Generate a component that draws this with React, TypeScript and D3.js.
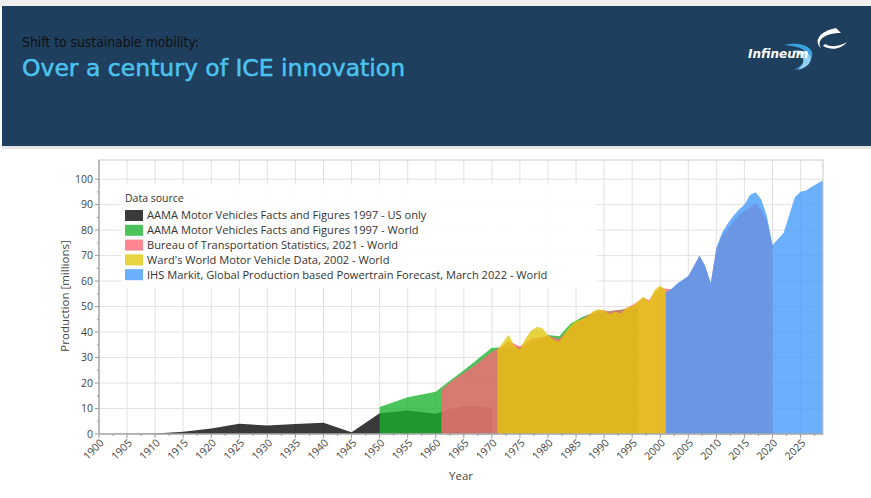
import React, { useRef, useEffect } from 'react';
import * as d3 from 'd3';

// US only production (AAMA 1997)
const usYears = [1900, 1905, 1910, 1915, 1920, 1925, 1930, 1935, 1940, 1945, 1950, 1955, 1960, 1962, 1965, 1968, 1970];
const usValues = [0, 0.05, 0.2, 0.9, 2.2, 4.0, 3.3, 3.9, 4.4, 0.7, 8.1, 9.2, 7.9, 9.5, 11.0, 10.8, 10.5];

// World production (AAMA 1997)
const aamaYears = [1950, 1955, 1960, 1962, 1965, 1970, 1975, 1978, 1980, 1982, 1984, 1986, 1988, 1990, 1994, 1996];
const aamaValues = [10.6, 14.4, 16.6, 20.0, 25.0, 33.8, 34.0, 36.5, 38.8, 38.4, 43.3, 45.8, 47.5, 48.0, 49.0, 50.3];

// Bureau of Transportation Statistics 2021
const btsYears = [1961, 1963, 1965, 1967, 1970, 1972, 1973, 1975, 1977, 1980, 1982, 1983, 1985, 1987, 1989, 1990, 1991, 1992, 1993, 1995, 1997, 1998, 1999, 2000, 2002, 2004, 2005, 2006, 2007, 2008, 2009, 2010, 2011, 2012, 2013, 2014, 2015, 2016, 2017, 2018, 2019, 2020];
const btsValues = [17.3, 21.0, 24.0, 27.0, 32.3, 34.5, 36.5, 34.3, 37.5, 38.5, 37.3, 39.5, 43.5, 46.5, 48.5, 48.6, 48.0, 48.6, 48.5, 50.5, 53.5, 52.5, 55.5, 57.3, 56.8, 60.3, 61.8, 65.8, 69.8, 65.8, 59.0, 72.8, 77.5, 80.5, 83.0, 86.0, 87.5, 89.0, 90.5, 88.0, 83.5, 74.0];

// Ward's World Motor Vehicle Data 2002
const wardYears = [1971, 1972, 1973, 1974, 1975, 1976, 1977, 1978, 1979, 1980, 1981, 1982, 1983, 1984, 1985, 1986, 1987, 1988, 1989, 1990, 1991, 1992, 1993, 1994, 1995, 1996, 1997, 1998, 1999, 2000, 2001];
const wardValues = [33.0, 36.0, 38.9, 34.5, 33.2, 37.5, 40.5, 42.0, 41.5, 38.8, 37.0, 36.2, 39.5, 42.5, 44.3, 45.0, 46.0, 48.2, 48.9, 48.5, 47.0, 48.0, 47.3, 49.5, 50.0, 52.0, 53.9, 51.8, 56.5, 58.3, 56.3];

// IHS Markit forecast, March 2022
const ihsYears = [2001, 2002, 2003, 2004, 2005, 2006, 2007, 2008, 2009, 2010, 2011, 2012, 2013, 2014, 2015, 2016, 2017, 2018, 2019, 2020, 2021, 2022, 2023, 2024, 2025, 2026, 2027, 2028, 2029];
const ihsValues = [55.5, 57.0, 59.0, 60.5, 62.0, 66.0, 70.0, 66.0, 59.2, 73.0, 79.0, 82.5, 85.5, 88.0, 90.0, 93.8, 94.8, 92.0, 85.5, 74.2, 76.5, 79.0, 86.0, 93.0, 95.0, 95.5, 97.0, 98.3, 99.6];

const seriesNames = [
  'AAMA Motor Vehicles Facts and Figures 1997 - US only',
  'AAMA Motor Vehicles Facts and Figures 1997 - World',
  'Bureau of Transportation Statistics, 2021 - World',
  "Ward's World Motor Vehicle Data, 2002 - World",
  'IHS Markit, Global Production based Powertrain Forecast, March 2022 - World',
];
const seriesColors = ['#030303', '#1ab32e', '#ff6576', '#e0c80a', '#409afb'];

const yTicks = [0, 10, 20, 30, 40, 50, 60, 70, 80, 90, 100];
const xTicks = d3.range(1900, 2030, 5);

const App = () => {
  const svgRef = useRef(null);

  useEffect(() => {
    const svg = d3.select(svgRef.current);
    svg.selectAll('*').remove();

    const W = 871;
    const H = 498;
    const left = 99;
    const right = 823;
    const top = 160;
    const bottom = 434;
    const font = "'Open Sans', 'Noto Sans', sans-serif";

    svg.append('rect').attr('width', W).attr('height', H).attr('fill', '#ffffff');

    // Header band
    svg.append('rect').attr('x', 0).attr('y', 0).attr('width', W).attr('height', 6).attr('fill', '#eeeeee');
    svg.append('rect').attr('x', 2).attr('y', 6).attr('width', W - 2).attr('height', 140).attr('fill', '#1f3f5e');
    svg.append('rect').attr('x', 2).attr('y', 146).attr('width', W - 2).attr('height', 3).attr('fill', '#e6e6e6');

    svg.append('text')
      .attr('x', 22).attr('y', 47)
      .attr('font-family', "'DejaVu Sans Condensed', sans-serif")
      .attr('font-size', 13.8)
      .attr('fill', '#111111')
      .text('Shift to sustainable mobility:');

    svg.append('text')
      .attr('x', 22).attr('y', 76)
      .attr('font-family', "'DejaVu Sans', sans-serif")
      .attr('font-size', 23.5)
      .attr('fill', '#4cc3ef')
      .attr('stroke', '#4cc3ef')
      .attr('stroke-width', 0.5)
      .text('Over a century of ICE innovation');

    // Logo
    const logo = svg.append('g');
    logo.append('path')
      .attr('d', 'M836,28 C820,31 813,41 821,48 C816,40 825,33 841,33 Z')
      .attr('fill', '#ffffff');
    logo.append('path')
      .attr('d', 'M825,44 C832,48 840,46 847,42 C841,49 832,51 823,46 Z')
      .attr('fill', '#ffffff');
    logo.append('path')
      .attr('d', 'M784,45 C800,41 815,47 812,57 C810,64 802,68 794,70 C805,64 808,58 806,53 C803,48 796,46 784,45 Z')
      .attr('fill', '#3aa0e0');
    logo.append('path')
      .attr('d', 'M792,51 C805,49 814,55 810,62 C808,66 804,68 798,70 C806,62 806,56 792,51 Z')
      .attr('fill', '#8fd0f5');
    logo.append('text')
      .attr('x', 748).attr('y', 58)
      .attr('font-family', "'DejaVu Sans', sans-serif")
      .attr('font-weight', 'bold')
      .attr('font-style', 'italic')
      .attr('font-size', 12)
      .attr('fill', '#ffffff')
      .text('Infineum');

    // Scales
    const x = d3.scaleLinear().domain([1900, 2029]).range([left, right]);
    const y = d3.scaleLinear().domain([0, 107.5]).range([bottom, top]);

    // Grid
    const grid = svg.append('g');
    xTicks.forEach((t) => {
      grid.append('line')
        .attr('x1', x(t)).attr('x2', x(t)).attr('y1', top).attr('y2', bottom)
        .attr('stroke', '#e2e2e2').attr('stroke-width', 1);
    });
    yTicks.forEach((t) => {
      grid.append('line')
        .attr('x1', left).attr('x2', right).attr('y1', y(t)).attr('y2', y(t))
        .attr('stroke', '#e2e2e2').attr('stroke-width', 1);
    });

    // Areas
    const area = d3.area()
      .x((d) => x(d[0]))
      .y0(y(0))
      .y1((d) => y(d[1]));

    const allSeries = [
      [usYears, usValues],
      [aamaYears, aamaValues],
      [btsYears, btsValues],
      [wardYears, wardValues],
      [ihsYears, ihsValues],
    ];
    allSeries.forEach(([yrs, vals], i) => {
      const pts = yrs.map((yr, j) => [yr, vals[j]]);
      svg.append('path')
        .datum(pts)
        .attr('fill', seriesColors[i])
        .attr('fill-opacity', 0.78)
        .attr('d', area);
    });

    // Frame
    svg.append('rect')
      .attr('x', left).attr('y', top)
      .attr('width', right - left).attr('height', bottom - top)
      .attr('fill', 'none').attr('stroke', '#c8c8c8');

    // Axes
    const axisColor = '#9a9a9a';
    svg.append('line').attr('x1', left).attr('x2', left).attr('y1', top).attr('y2', bottom).attr('stroke', axisColor);
    svg.append('line').attr('x1', left).attr('x2', right).attr('y1', bottom).attr('y2', bottom).attr('stroke', axisColor);

    d3.range(0, 105, 5).forEach((t) => {
      const major = t % 10 === 0;
      svg.append('line')
        .attr('x1', left - (major ? 4 : 2)).attr('x2', left)
        .attr('y1', y(t)).attr('y2', y(t)).attr('stroke', axisColor);
    });
    yTicks.forEach((t) => {
      svg.append('text')
        .attr('x', left - 6).attr('y', y(t)).attr('dy', '0.35em')
        .attr('text-anchor', 'end')
        .attr('font-family', font).attr('font-size', 10.5).attr('fill', '#444444')
        .text(t);
    });

    d3.range(1900, 2029, 2.5).forEach((t) => {
      const major = t % 5 === 0;
      svg.append('line')
        .attr('x1', x(t)).attr('x2', x(t))
        .attr('y1', bottom).attr('y2', bottom + (major ? 4 : 2)).attr('stroke', axisColor);
    });
    xTicks.forEach((t) => {
      svg.append('text')
        .attr('transform', `translate(${x(t) + 3},${bottom + 7}) rotate(-45)`)
        .attr('text-anchor', 'end').attr('dy', '0.35em')
        .attr('font-family', font).attr('font-size', 10.5).attr('fill', '#444444')
        .text(t);
    });

    svg.append('text')
      .attr('x', 461).attr('y', 480)
      .attr('text-anchor', 'middle')
      .attr('font-family', font).attr('font-size', 11.5).attr('fill', '#444444')
      .text('Year');

    svg.append('text')
      .attr('transform', 'translate(69,296) rotate(-90)')
      .attr('text-anchor', 'middle')
      .attr('font-family', font).attr('font-size', 11.5).attr('fill', '#444444')
      .text('Production [millions]');

    // Legend
    const lg = svg.append('g');
    lg.append('rect')
      .attr('x', 121).attr('y', 184).attr('width', 476).attr('height', 104)
      .attr('fill', '#ffffff').attr('fill-opacity', 0.92);
    lg.append('text')
      .attr('x', 125).attr('y', 202)
      .attr('font-family', font).attr('font-size', 10.5).attr('fill', '#333333')
      .text('Data source');
    seriesNames.forEach((name, i) => {
      const cy = 215.5 + i * 14.8;
      lg.append('rect')
        .attr('x', 125).attr('y', cy - 5.5).attr('width', 18).attr('height', 11)
        .attr('fill', seriesColors[i]).attr('fill-opacity', 0.78);
      lg.append('text')
        .attr('x', 147).attr('y', cy).attr('dy', '0.35em')
        .attr('font-family', font).attr('font-size', 11.1).attr('fill', '#333333')
        .text(name);
    });
  }, []);

  return (
    <svg
      ref={svgRef}
      width={871}
      height={498}
      style={{ position: 'absolute', left: 0, top: 0 }}
    />
  );
};

export default App;
